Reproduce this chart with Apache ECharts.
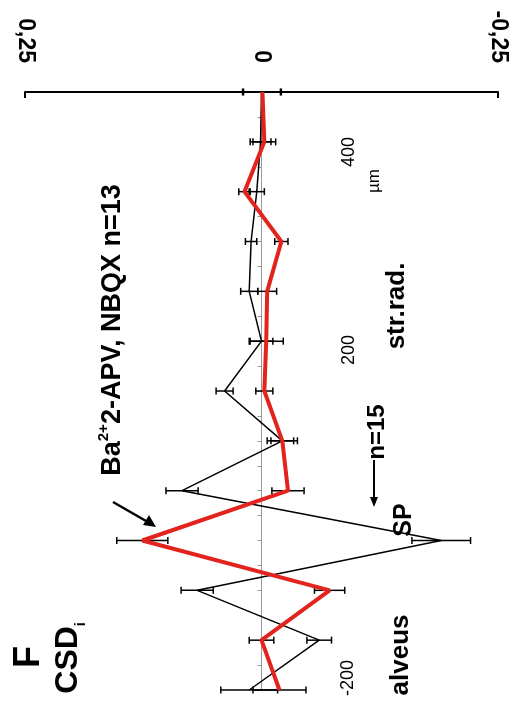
<!DOCTYPE html>
<html>
<head>
<meta charset="utf-8">
<script src="https://cdn.jsdelivr.net/npm/echarts@6/dist/echarts.min.js"></script>
<style>
  html, body { margin: 0; padding: 0; background: #fff; }
  #main { width: 526px; height: 720px; }
</style>
</head>
<body>
<div id="main"></div>
<script>
var chartDom = document.getElementById('main');
var myChart = echarts.init(chartDom);
var option;

// depth along the slice (µm), one point every 50 µm
const depths = [400, 350, 300, 250, 200, 150, 100, 50, 0, -50, -100, -150, -200];
// control CSD (n=15), black line
const controlCsd = [0.0, 0.001, 0.005, 0.011, 0.013, 0.0, 0.039, -0.022, 0.084, -0.19, 0.068, -0.061, 0.013];
const controlErr = [0.02, 0.011, 0.008, 0.006, 0.009, 0.012, 0.009, 0.012, 0.017, 0.031, 0.017, 0.013, 0.03];
// Ba2+ 2-APV, NBQX (n=13), red line
const drugCsd = [-0.001, -0.003, 0.018, -0.021, -0.006, -0.005, -0.003, -0.022, -0.028, 0.126, -0.072, 0.0, -0.019];
const drugErr = [0.02, 0.012, 0.006, 0.007, 0.01, 0.018, 0.009, 0.016, 0.017, 0.027, 0.016, 0.013, 0.028];
// tick labels
const valueTicks = [0.25, 0, -0.25];
const depthTickLabels = ['400', '200', '-200'];

const FONT = '"Liberation Sans", Arial, sans-serif';

const controlData = depths.map((d, i) => [controlCsd[i], d]);
const drugData = depths.map((d, i) => [drugCsd[i], d]);
const errData = depths
  .map((d, i) => [controlCsd[i], d, controlErr[i]])
  .concat(depths.map((d, i) => [drugCsd[i], d, drugErr[i]]));

function vText(x, y, text, font) {
  return {
    type: 'text',
    x: x,
    y: y,
    rotation: Math.PI / 2,
    silent: true,
    style: {
      text: text,
      font: font,
      fill: '#000',
      textAlign: 'center',
      textVerticalAlign: 'middle'
    }
  };
}

const depthLabelPos = [[349, 152], [349, 350], [348, 678]];

option = {
  animation: false,
  backgroundColor: '#fff',
  grid: { left: 25, right: 28, top: 92, bottom: 30 },
  xAxis: {
    type: 'value',
    position: 'top',
    inverse: true,
    min: -0.25,
    max: 0.25,
    interval: 0.25,
    axisLine: { onZero: false, lineStyle: { color: '#000', width: 2 } },
    axisTick: { show: true, inside: true, length: 6, customValues: [-0.25, 0.25], lineStyle: { color: '#000', width: 2 } },
    axisLabel: {
      customValues: valueTicks,
      rotate: 90,
      margin: 29,
      color: '#000',
      fontFamily: FONT,
      fontWeight: 'bold',
      fontSize: 23,
      formatter: function (v) { return String(v).replace('.', ','); }
    },
    splitLine: { show: false }
  },
  yAxis: {
    type: 'value',
    min: -200,
    max: 400,
    interval: 25,
    axisLine: { onZero: true, lineStyle: { color: '#999', width: 1 } },
    axisTick: { show: true, length: 4, lineStyle: { color: '#999' } },
    axisLabel: { show: false },
    splitLine: { show: false }
  },
  series: [
    {
      name: 'control',
      type: 'line',
      data: controlData,
      showSymbol: false,
      z: 3,
      lineStyle: { color: '#000', width: 1.5 }
    },
    {
      type: 'custom',
      data: errData,
      z: 4,
      clip: false,
      renderItem: function (params, api) {
        const v = api.value(0), d = api.value(1), e = api.value(2);
        const a = api.coord([v - e, d]);
        const b = api.coord([v + e, d]);
        const st = { stroke: '#000', lineWidth: 1.5 };
        return {
          type: 'group',
          children: [
            { type: 'line', shape: { x1: a[0], y1: a[1], x2: b[0], y2: b[1] }, style: st },
            { type: 'line', shape: { x1: a[0], y1: a[1] - 3.5, x2: a[0], y2: a[1] + 3.5 }, style: st },
            { type: 'line', shape: { x1: b[0], y1: b[1] - 3.5, x2: b[0], y2: b[1] + 3.5 }, style: st }
          ]
        };
      }
    },
    {
      name: 'Ba2+ 2-APV, NBQX',
      type: 'line',
      data: drugData,
      showSymbol: false,
      z: 5,
      lineStyle: { color: '#e3231d', width: 4 }
    }
  ],
  graphic: [
    vText(29, 657, 'F', 'bold 36px ' + FONT),
    {
      type: 'text', x: 70, y: 658, rotation: Math.PI / 2, silent: true,
      style: {
        text: '{a|CSD}{s|i}',
        textAlign: 'center', textVerticalAlign: 'middle',
        rich: {
          a: { font: 'bold 32px ' + FONT, fill: '#000', lineHeight: 36, verticalAlign: 'top' },
          s: { font: 'bold 14px ' + FONT, fill: '#000', lineHeight: 16, verticalAlign: 'bottom' }
        }
      }
    },
    {
      type: 'text', x: 111, y: 330, rotation: Math.PI / 2, silent: true,
      style: {
        text: '{n|Ba}{p|2+}{n|2-APV, NBQX n=13}',
        textAlign: 'center', textVerticalAlign: 'middle',
        rich: {
          n: { font: 'bold 27px ' + FONT, fill: '#000', lineHeight: 30, verticalAlign: 'bottom' },
          p: { font: 'bold 15px ' + FONT, fill: '#000', lineHeight: 16, verticalAlign: 'top' }
        }
      }
    },
    { type: 'line', silent: true, shape: { x1: 113, y1: 502, x2: 153, y2: 525 }, style: { stroke: '#000', lineWidth: 2.5 } },
    { type: 'polygon', silent: true, shape: { points: [[156, 527], [143, 525], [149, 515]] }, style: { fill: '#000' } },
    vText(397, 306, 'str.rad.', 'bold 26px ' + FONT),
    vText(377, 432, 'n=15', 'bold 24px ' + FONT),
    { type: 'line', silent: true, shape: { x1: 374, y1: 460, x2: 374, y2: 500 }, style: { stroke: '#000', lineWidth: 2 } },
    { type: 'polygon', silent: true, shape: { points: [[374, 507], [370, 497], [378, 497]] }, style: { fill: '#000' } },
    vText(404, 520, 'SP', 'bold 25px ' + FONT),
    vText(401, 655, 'alveus', 'bold 26px ' + FONT),
    vText(374, 181, 'µm', '17px ' + FONT)
  ].concat(depthTickLabels.map((t, i) => vText(depthLabelPos[i][0], depthLabelPos[i][1], t, '18px ' + FONT)))
};

option && myChart.setOption(option);
</script>
</body>
</html>
